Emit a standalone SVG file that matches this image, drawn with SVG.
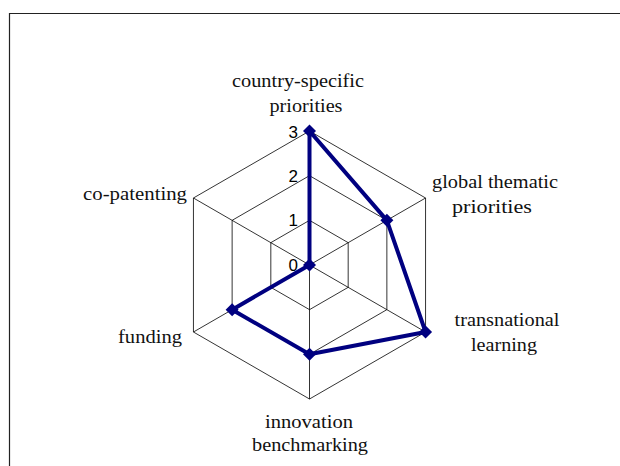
<svg xmlns="http://www.w3.org/2000/svg" width="620" height="466" viewBox="0 0 620 466">
<style>
.lbl{font-family:"Liberation Serif","Times New Roman",serif;font-size:18px;fill:#111;text-anchor:middle}
.num{font-family:"Liberation Sans",Arial,sans-serif;font-size:17px;fill:#000;text-anchor:end}
.grid{fill:none;stroke:#000;stroke-width:0.8}
.data{fill:none;stroke:#000080;stroke-width:4;stroke-linejoin:round}
</style>
<defs>
<marker id="dm" viewBox="-7 -7 14 14" markerWidth="14" markerHeight="14" markerUnits="userSpaceOnUse" refX="0" refY="0">
<path d="M0,-6.5 L6.5,0 L0,6.5 L-6.5,0 Z" fill="#000080"/>
</marker>
</defs>
<rect width="620" height="466" fill="#fff"/>
<path d="M9.5,466 V13.5 H620" fill="none" stroke="#222" stroke-width="1.2"/>
<g id="grid">
<polygon class="grid" points="309.5,220.33 348.18,242.67 348.18,287.33 309.5,309.67 270.82,287.33 270.82,242.67"/>
<polygon class="grid" points="309.5,175.67 386.86,220.33 386.86,309.67 309.5,354.33 232.14,309.67 232.14,220.33"/>
<polygon class="grid" points="309.5,131 425.55,198 425.55,332 309.5,399 193.45,332 193.45,198"/>
<path class="grid" d="M309.5,265 L309.5,131 M309.5,265 L425.55,198 M309.5,265 L425.55,332 M309.5,265 L309.5,399 M309.5,265 L193.45,332 M309.5,265 L193.45,198"/>
</g>
<g id="scale">
<text class="num" x="298" y="138">3</text>
<text class="num" x="298" y="182">2</text>
<text class="num" x="298" y="226">1</text>
<text class="num" x="298" y="271">0</text>
</g>
<g id="connectors">
<polyline class="data" points="309.5,131 386.86,220.33 425.55,332 309.5,354.33 232.14,309.67 309.5,265 309.5,131" marker-start="url(#dm)" marker-mid="url(#dm)"/>
</g>
<g id="node-country">
<text class="lbl" x="298" y="87" textLength="132" lengthAdjust="spacingAndGlyphs">country-specific</text>
<text class="lbl" x="306" y="112" textLength="73" lengthAdjust="spacingAndGlyphs">priorities</text>
</g>
<g id="node-global">
<text class="lbl" x="495" y="188" textLength="126" lengthAdjust="spacingAndGlyphs">global thematic</text>
<text class="lbl" x="492" y="213" textLength="80" lengthAdjust="spacingAndGlyphs">priorities</text>
</g>
<g id="node-transnational">
<text class="lbl" x="507" y="326" textLength="105" lengthAdjust="spacingAndGlyphs">transnational</text>
<text class="lbl" x="504" y="351" textLength="66" lengthAdjust="spacingAndGlyphs">learning</text>
</g>
<g id="node-innovation">
<text class="lbl" x="309" y="428" textLength="88" lengthAdjust="spacingAndGlyphs">innovation</text>
<text class="lbl" x="310" y="451" textLength="116" lengthAdjust="spacingAndGlyphs">benchmarking</text>
</g>
<g id="node-funding">
<text class="lbl" x="150" y="343" textLength="64" lengthAdjust="spacingAndGlyphs">funding</text>
</g>
<g id="node-copatenting">
<text class="lbl" x="135" y="200" textLength="104" lengthAdjust="spacingAndGlyphs">co-patenting</text>
</g>
</svg>
